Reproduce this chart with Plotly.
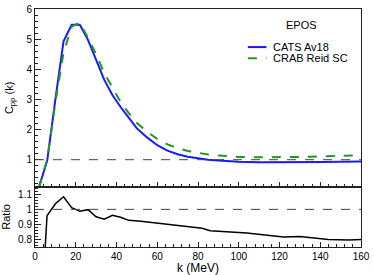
import plotly.graph_objects as go

# ---- data ----
k_cats = [2, 6, 10, 14, 18, 22, 26, 30, 34, 38, 42, 46, 50, 55, 60, 65, 70, 75, 80, 85, 90, 95, 100, 110, 120, 130, 140, 150, 160]
c_cats = [0.1, 0.97, 3.0, 4.93, 5.48, 5.48, 4.98, 4.3, 3.65, 3.15, 2.75, 2.4, 2.04, 1.74, 1.48, 1.3, 1.18, 1.1, 1.04, 1.0, 0.97, 0.945, 0.93, 0.915, 0.91, 0.915, 0.92, 0.93, 0.94]

k_crab = [2, 6, 10, 14, 18, 22, 26, 30, 34, 38, 42, 46, 50, 55, 60, 65, 70, 75, 80, 85, 90, 95, 100, 110, 120, 130, 140, 150, 160]
c_crab = [0.1, 1.0, 2.9, 4.55, 5.42, 5.55, 5.05, 4.5, 3.87, 3.37, 2.92, 2.55, 2.22, 1.93, 1.69, 1.51, 1.38, 1.29, 1.22, 1.17, 1.14, 1.11, 1.09, 1.08, 1.08, 1.09, 1.11, 1.13, 1.15]

k_ratio = [4.8, 5.9, 10, 14, 18, 22, 26, 30, 34, 38, 42, 46, 52, 58, 66, 74, 82, 86, 98, 104, 114, 122, 130, 138, 144, 154, 160]
ratio = [0.70, 0.957, 1.037, 1.084, 1.011, 0.987, 0.998, 0.951, 0.935, 0.961, 0.948, 0.927, 0.921, 0.912, 0.899, 0.884, 0.875, 0.858, 0.847, 0.843, 0.828, 0.817, 0.819, 0.809, 0.80, 0.796, 0.80]

legend_title = "EPOS"
name_cats = "CATS Av18"
name_crab = "CRAB Reid SC"

BLUE = "#1a1aff"
GREEN = "#1f9a1f"
FONT = "Liberation Sans, Arial, sans-serif"

fig = go.Figure()
fig.add_trace(go.Scatter(x=k_cats, y=c_cats, mode="lines", line=dict(color=BLUE, width=2),
                         xaxis="x", yaxis="y", showlegend=False, name=name_cats))
fig.add_trace(go.Scatter(x=k_crab, y=c_crab, mode="lines", line=dict(color=GREEN, width=2, dash="dash"),
                         xaxis="x", yaxis="y", showlegend=False, name=name_crab))
fig.add_trace(go.Scatter(x=k_ratio, y=ratio, mode="lines", line=dict(color="black", width=1.5),
                         xaxis="x2", yaxis="y2", showlegend=False))

# reference lines at 1
fig.add_shape(type="line", xref="x domain", yref="y", x0=0, x1=1, y0=1, y1=1,
              line=dict(color="#444", width=1, dash="dash"))
fig.add_shape(type="line", xref="x2 domain", yref="y2", x0=0, x1=1, y0=1, y1=1,
              line=dict(color="#444", width=1, dash="dash"))

# custom legend
fig.add_annotation(xref="paper", yref="paper", x=0.818, y=0.931, text=legend_title, showarrow=False,
                   font=dict(size=11, color="black", family=FONT), xanchor="center", yanchor="middle")
fig.add_shape(type="line", xref="paper", yref="paper", x0=0.653, x1=0.710, y0=0.840, y1=0.840,
              line=dict(color=BLUE, width=2))
fig.add_shape(type="line", xref="paper", yref="paper", x0=0.653, x1=0.710, y0=0.793, y1=0.793,
              line=dict(color=GREEN, width=2, dash="dash"))
fig.add_annotation(xref="paper", yref="paper", x=0.725, y=0.840, text=name_cats, showarrow=False,
                   font=dict(size=11, color="black", family=FONT), xanchor="left", yanchor="middle")
fig.add_annotation(xref="paper", yref="paper", x=0.725, y=0.793, text=name_crab, showarrow=False,
                   font=dict(size=11, color="black", family=FONT), xanchor="left", yanchor="middle")

axis_common = dict(showline=True, linecolor="#222", linewidth=1, mirror=True, showgrid=False,
                   zeroline=False, ticks="inside", tickcolor="#222", ticklabeloverflow="allow",
                   tickfont=dict(size=10, color="black", family=FONT))

fig.update_layout(
    width=374, height=275,
    margin=dict(l=30, r=10, t=4, b=26),
    paper_bgcolor="white", plot_bgcolor="white",
    font=dict(family=FONT, color="black"),
    xaxis=dict(**axis_common, domain=[0, 1], anchor="y", range=[0, 160], dtick=20, ticklen=5,
               showticklabels=False, minor=dict(dtick=4, ticks="inside", ticklen=3, tickcolor="#222")),
    yaxis=dict(**axis_common, domain=[0.253, 1], anchor="x", range=[0.1, 6.005], tickvals=[1, 2, 3, 4, 5, 6],
               ticklen=6, minor=dict(dtick=0.2, ticks="inside", ticklen=3, tickcolor="#222"),
               title=dict(text="C<sub>pp</sub> (k)", font=dict(size=11, family=FONT), standoff=10)),
    xaxis2=dict(**axis_common, domain=[0, 1], anchor="y2", range=[0, 160], dtick=20, ticklen=5,
                matches="x", minor=dict(dtick=4, ticks="inside", ticklen=3, tickcolor="#222"),
                title=dict(text="k (MeV)", font=dict(size=12, family=FONT), standoff=1)),
    yaxis2=dict(**axis_common, domain=[0, 0.253], anchor="x2", range=[0.75, 1.15],
                tickvals=[0.8, 0.9, 1.0, 1.1], ticktext=["0.8", "0.9", "1", "1.1"], ticklen=6,
                minor=dict(dtick=0.02, ticks="inside", ticklen=3, tickcolor="#222"),
                title=dict(text="Ratio", font=dict(size=11, family=FONT), standoff=6)),
)

fig.write_html("out.html", config={"displayModeBar": False},
               post_script="document.body.style.margin='0';document.body.style.padding='0';")
